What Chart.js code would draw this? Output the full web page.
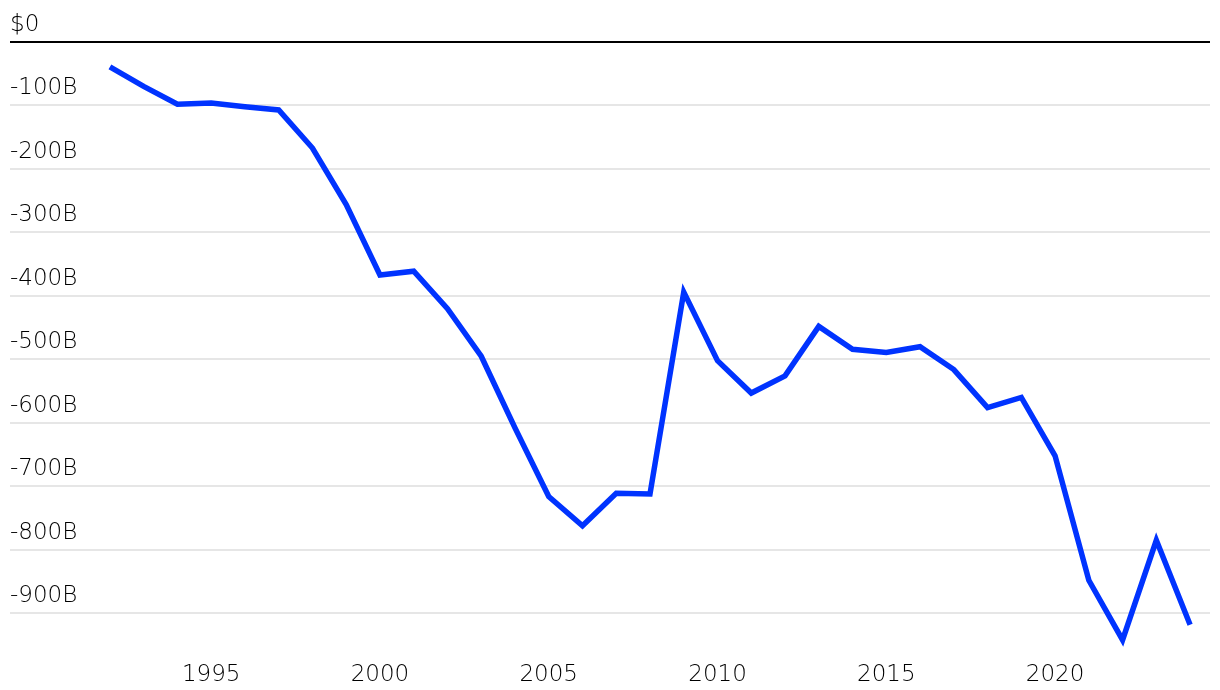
<!DOCTYPE html>
<html>
<head>
<meta charset="utf-8">
<script src="https://cdn.jsdelivr.net/npm/chart.js@4"></script>
<style>
  html, body { margin: 0; padding: 0; background: #fff; }
  #wrap { width: 1220px; height: 690px; position: relative; }
</style>
</head>
<body>
<div id="wrap"><canvas id="c" width="1220" height="690"></canvas></div>
<script>
// Years (categories)
const years = [1992,1993,1994,1995,1996,1997,1998,1999,2000,2001,2002,2003,2004,2005,2006,2007,2008,2009,2010,2011,2012,2013,2014,2015,2016,2017,2018,2019,2020,2021,2022,2023,2024];
// US trade balance, billions of dollars
const balance = [-39,-70,-98,-96,-102,-107,-167,-256,-367,-361,-420,-495,-608,-716,-762,-711,-712,-394,-502,-553,-526,-448,-484,-489,-480,-516,-576,-560,-652,-848,-942,-785,-918];
// Tick labels
const xTicks = [1995,2000,2005,2010,2015,2020];
const yTicks = [0,-100,-200,-300,-400,-500,-600,-700,-800,-900];

const FONT = "'DejaVu Sans', sans-serif";

const points = years.map((y, i) => ({ x: y, y: balance[i] }));

new Chart(document.getElementById('c'), {
  type: 'line',
  data: {
    datasets: [{
      data: points,
      borderColor: '#0033ff',
      borderWidth: 5.5,
      pointRadius: 0,
      tension: 0,
      borderJoinStyle: 'miter',
      fill: false
    }]
  },
  options: {
    responsive: false,
    animation: false,
    devicePixelRatio: 1,
    layout: { padding: { left: 10, right: 10, top: 42, bottom: 0 } },
    plugins: { legend: { display: false }, tooltip: { enabled: false } },
    scales: {
      x: {
        type: 'linear',
        min: 1989.04,
        max: 2024.59,
        afterBuildTicks: (s) => { s.ticks = xTicks.map(v => ({ value: v })); },
        afterFit: (s) => { s.height = 38.6; },
        grid: { display: false },
        border: { display: false },
        ticks: {
          autoSkip: false,
          maxRotation: 0,
          padding: 2,
          color: '#000000',
          font: { family: FONT, size: 23, weight: 300 },
          callback: (v) => String(v)
        }
      },
      y: {
        min: -960,
        max: 0,
        afterBuildTicks: (s) => { s.ticks = yTicks.map(v => ({ value: v })); },
        grid: {
          drawTicks: false,
          color: (ctx) => ctx.tick && ctx.tick.value === 0 ? '#000000' : '#e6e6e6',
          lineWidth: 2
        },
        border: { display: false },
        ticks: {
          mirror: true,
          padding: 0,
          labelOffset: -17,
          color: '#000000',
          font: { family: FONT, size: 23, weight: 300 },
          callback: (v) => v === 0 ? '$0' : (String(v) + 'B')
        }
      }
    }
  }
});
</script>
</body>
</html>
